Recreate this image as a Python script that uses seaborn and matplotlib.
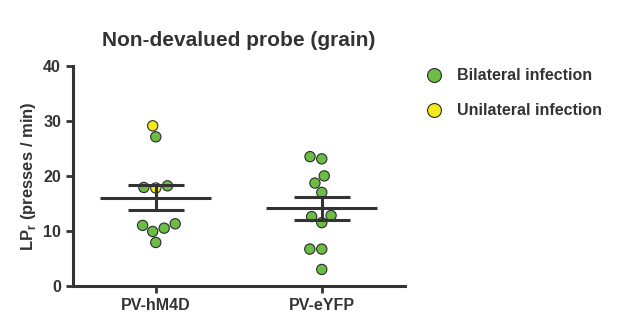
import numpy as np
import pandas as pd
import seaborn as sns
from matplotlib import pyplot as plt

# values
groups = ["PV-hM4D", "PV-eYFP"]
hm4d_lp = [29.1, 27.1, 18.2, 17.9, 17.8, 11.0, 10.5, 11.3, 9.9, 7.9]
hm4d_inf = ["Unilateral", "Bilateral", "Bilateral", "Bilateral", "Unilateral",
            "Bilateral", "Bilateral", "Bilateral", "Bilateral", "Bilateral"]
eyfp_lp = [23.5, 23.1, 20.0, 18.7, 17.0, 12.8, 11.5, 12.6, 6.7, 6.7, 3.0]
eyfp_inf = ["Bilateral"] * len(eyfp_lp)

df = pd.DataFrame({
    "group": [groups[0]] * len(hm4d_lp) + [groups[1]] * len(eyfp_lp),
    "lp": hm4d_lp + eyfp_lp,
    "infection": hm4d_inf + eyfp_inf,
})

sns.set_style("ticks")
plt.rcParams['font.family'] = ['Liberation Sans', 'DejaVu Sans']
plt.rcParams['font.weight'] = 'bold'
plt.rcParams['mathtext.default'] = 'bf'
dark = "#333333"

fig = plt.figure(figsize=(6.17, 3.36), dpi=100)
ax = fig.add_axes([0.118, 0.149, 0.538, 0.655])

pal = {"Bilateral": "#6cbd45", "Unilateral": "#f2ea1b"}
sns.swarmplot(data=df, x="group", y="lp", hue="infection", order=groups,
              hue_order=["Bilateral", "Unilateral"], palette=pal, size=7.4,
              edgecolor="#2b2b2b", linewidth=0.8, ax=ax, legend=False, zorder=2)

# mean +/- SEM
for i, g in enumerate(groups):
    v = df.loc[df.group == g, "lp"].values
    m = v.mean()
    sem = v.std(ddof=1) / np.sqrt(len(v))
    ax.hlines(m, i - 0.335, i + 0.335, color=dark, lw=2.2, zorder=3)
    ax.hlines([m - sem, m + sem], i - 0.17, i + 0.17, color=dark, lw=2.2, zorder=3)
    ax.vlines(i, m - sem, m + sem, color=dark, lw=2.2, zorder=3)

ax.set_xlim(-0.5, 1.5)
ax.set_ylim(0, 40)
ax.set_yticks([0, 10, 20, 30, 40])
ax.set_xlabel("")
ax.set_ylabel("LP$_\\mathregular{r}$ (presses / min)", fontsize=12,
              fontweight="bold", color=dark, labelpad=4)
ax.set_title("Non-devalued probe (grain)", fontsize=15, fontweight="bold",
             color=dark, pad=14)

sns.despine(ax=ax)
for s in ["left", "bottom"]:
    ax.spines[s].set_linewidth(2.2)
    ax.spines[s].set_color(dark)
ax.tick_params(width=2, length=5, color=dark, labelsize=11.5, labelcolor=dark)
for lab in ax.get_xticklabels() + ax.get_yticklabels():
    lab.set_fontweight("bold")

handles = [plt.Line2D([], [], marker="o", ls="", markersize=10,
                      markerfacecolor=pal[k], markeredgecolor="#2b2b2b",
                      markeredgewidth=0.8) for k in pal]
leg = fig.legend(handles, ["Bilateral infection", "Unilateral infection"],
                 loc="upper left", bbox_to_anchor=(0.655, 0.84), frameon=False,
                 fontsize=11.5, handletextpad=0.4, labelspacing=1.25)
for t in leg.get_texts():
    t.set_color(dark)
    t.set_fontweight("bold")

fig.savefig("out.png", dpi=100)
